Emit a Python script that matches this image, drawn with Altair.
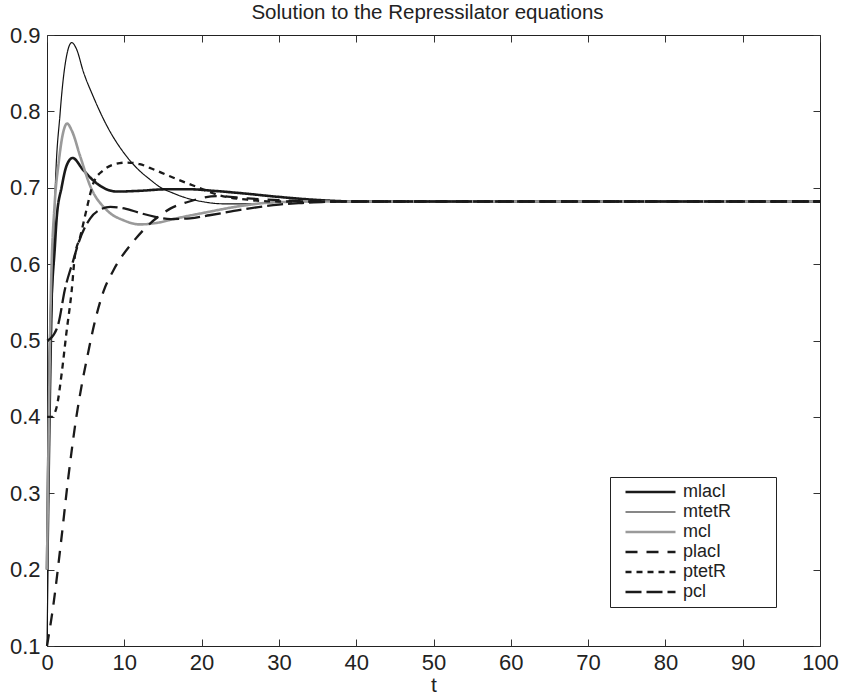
import altair as alt
import pandas as pd

FONT = "Liberation Sans"

series = ["mlacI", "mtetR", "mcl", "placI", "ptetR", "pcl"]
colors = ["#1a1a1a", "#111111", "#9a9a9a", "#1a1a1a", "#1a1a1a", "#1a1a1a"]
dashes = [[1, 0], [1, 0], [1, 0], [12, 9], [6, 5], [16, 5]]
widths = [2.6, 1.2, 2.6, 2.3, 2.3, 2.3]

mlacI_t = [0, 0.4, 1.03, 1.25, 1.9, 2.5, 3.3, 4.7, 6.4, 9.0, 12.0, 15.5, 18.5, 21.5, 25.0, 30.0, 35.0, 40.0, 60.0, 80.0, 100.0]
mlacI_y = [0.20, 0.50, 0.625, 0.660, 0.701, 0.728, 0.739, 0.723, 0.706, 0.695, 0.696, 0.698, 0.698, 0.696, 0.693, 0.688, 0.684, 0.682, 0.682, 0.682, 0.682]

mtetR_t = [0, 0.5, 1.03, 1.7, 2.4, 3.2, 3.8, 4.7, 6.0, 7.7, 10.3, 12.0, 13.3, 14.6, 16.3, 17.6, 20.0, 22.8, 26.0, 30.0, 35.0, 40.0, 60.0, 80.0, 100.0]
mtetR_y = [0.10, 0.45, 0.688, 0.798, 0.865, 0.890, 0.882, 0.852, 0.819, 0.782, 0.741, 0.722, 0.711, 0.701, 0.693, 0.688, 0.682, 0.679, 0.679, 0.681, 0.682, 0.682, 0.682, 0.682, 0.682]

mcl_t = [0, 0.5, 1.0, 1.5, 2.0, 2.6, 3.2, 4.3, 5.6, 7.7, 10.0, 12.0, 14.2, 16.8, 20.7, 25.0, 29.5, 35.0, 40.0, 60.0, 80.0, 100.0]
mcl_y = [0.20, 0.56, 0.68, 0.732, 0.768, 0.784, 0.775, 0.741, 0.702, 0.671, 0.657, 0.652, 0.654, 0.660, 0.668, 0.676, 0.681, 0.682, 0.682, 0.682, 0.682, 0.682]

placI_t = [0, 0.8, 1.8, 2.75, 3.8, 4.5, 5.3, 6.2, 7.3, 8.6, 11.2, 13.0, 14.5, 16.0, 18.1, 22.0, 26.0, 32.0, 40.0, 60.0, 80.0, 100.0]
placI_y = [0.10, 0.152, 0.235, 0.320, 0.400, 0.442, 0.483, 0.525, 0.564, 0.592, 0.630, 0.650, 0.663, 0.673, 0.681, 0.689, 0.686, 0.683, 0.682, 0.682, 0.682, 0.682]

ptetR_t = [0, 0.6, 1.25, 1.9, 2.5, 3.2, 3.6, 4.3, 5.1, 6.0, 7.3, 8.5, 10.3, 12.0, 13.3, 15.9, 17.6, 19.4, 22.0, 26.3, 30.0, 35.0, 40.0, 60.0, 80.0, 100.0]
ptetR_y = [0.40, 0.40, 0.413, 0.457, 0.509, 0.566, 0.610, 0.636, 0.671, 0.706, 0.723, 0.730, 0.733, 0.731, 0.726, 0.715, 0.708, 0.701, 0.691, 0.684, 0.682, 0.682, 0.682, 0.682, 0.682, 0.682]

pcl_t = [0, 0.4, 1.5, 2.3, 3.4, 4.05, 5.6, 7.0, 8.2, 10.0, 12.0, 14.0, 16.0, 18.5, 21.0, 25.0, 30.0, 33.0, 38.0, 45.0, 60.0, 80.0, 100.0]
pcl_y = [0.50, 0.502, 0.523, 0.566, 0.605, 0.627, 0.660, 0.672, 0.675, 0.673, 0.667, 0.662, 0.659, 0.660, 0.664, 0.671, 0.678, 0.680, 0.682, 0.682, 0.682, 0.682, 0.682]

x_ticks = [0, 10, 20, 30, 40, 50, 60, 70, 80, 90, 100]
y_ticks = [0.1, 0.2, 0.3, 0.4, 0.5, 0.6, 0.7, 0.8, 0.9]

data = {
    "mlacI": (mlacI_t, mlacI_y),
    "mtetR": (mtetR_t, mtetR_y),
    "mcl": (mcl_t, mcl_y),
    "placI": (placI_t, placI_y),
    "ptetR": (ptetR_t, ptetR_y),
    "pcl": (pcl_t, pcl_y),
}
rows = []
for name in series:
    ts, vs = data[name]
    for t, v in zip(ts, vs):
        rows.append({"series": name, "t": t, "value": v})
df = pd.DataFrame(rows)

xs = alt.Scale(domain=[0, 100], nice=False, zero=False)
ys = alt.Scale(domain=[0.1, 0.9], nice=False, zero=False)

common_axis = dict(tickSize=7, offset=-7, domain=False, grid=False,
                   tickColor="#333333", tickWidth=1,
                   labelFont=FONT, labelFontSize=22, labelColor="#222222")

# blank (non-whitespace) spacer title on the right widens the legend box like the reference
legend_kw = dict(title="\u2800" * 4, titleOrient="right", titlePadding=0,
                 titleFontSize=13, titleColor="white")

lines = alt.Chart(df).mark_line(interpolate="monotone").encode(
    x=alt.X("t:Q", scale=xs,
            axis=alt.Axis(orient="bottom", values=x_ticks, labelFlush=False,
                          labelPadding=6, title="t", titlePadding=1,
                          titleFont=FONT, titleFontSize=21, titleFontWeight="normal",
                          titleColor="#222222", **common_axis)),
    y=alt.Y("value:Q", scale=ys,
            axis=alt.Axis(orient="left", values=y_ticks, format=".1f",
                          labelFlush=False, labelPadding=7, title=None, **common_axis)),
    color=alt.Color("series:N", scale=alt.Scale(domain=series, range=colors),
                    legend=alt.Legend(**legend_kw)),
    strokeDash=alt.StrokeDash("series:N", scale=alt.Scale(domain=series, range=dashes),
                              legend=alt.Legend(**legend_kw)),
    strokeWidth=alt.StrokeWidth("series:N",
                                scale=alt.Scale(type="ordinal", domain=series, range=widths),
                                legend=alt.Legend(**legend_kw)),
)

frame = alt.Chart(df).mark_line(opacity=0).encode(
    x=alt.X("t:Q", scale=xs,
            axis=alt.Axis(orient="top", values=x_ticks, labels=False, title=None, **common_axis)),
    y=alt.Y("value:Q", scale=ys,
            axis=alt.Axis(orient="right", values=y_ticks, labels=False, title=None, **common_axis)),
    detail="series:N",
)

chart = alt.layer(lines, frame).properties(
    width=773,
    height=611,
    padding={"left": 47, "top": 35, "right": 21, "bottom": 49},
    autosize=alt.AutoSizeParams(type="none"),
    title=alt.TitleParams("Solution to the Repressilator equations", font=FONT, fontSize=20.5,
                          fontWeight="normal", color="#222222", frame="group",
                          anchor="middle", baseline="alphabetic", offset=-15, dx=-6),
).configure_view(
    stroke="#222222", strokeWidth=1
).configure_legend(
    orient="none", legendX=563, legendY=442, padding=5,
    strokeColor="#222222", fillColor="white",
    symbolType="stroke", symbolSize=2500, clipHeight=20, rowPadding=0,
    symbolOffset=9, labelOffset=6,
    labelFont=FONT, labelFontSize=18, labelColor="#222222",
)

chart.save("out.html", embed_options={"renderer": "svg", "actions": False})
